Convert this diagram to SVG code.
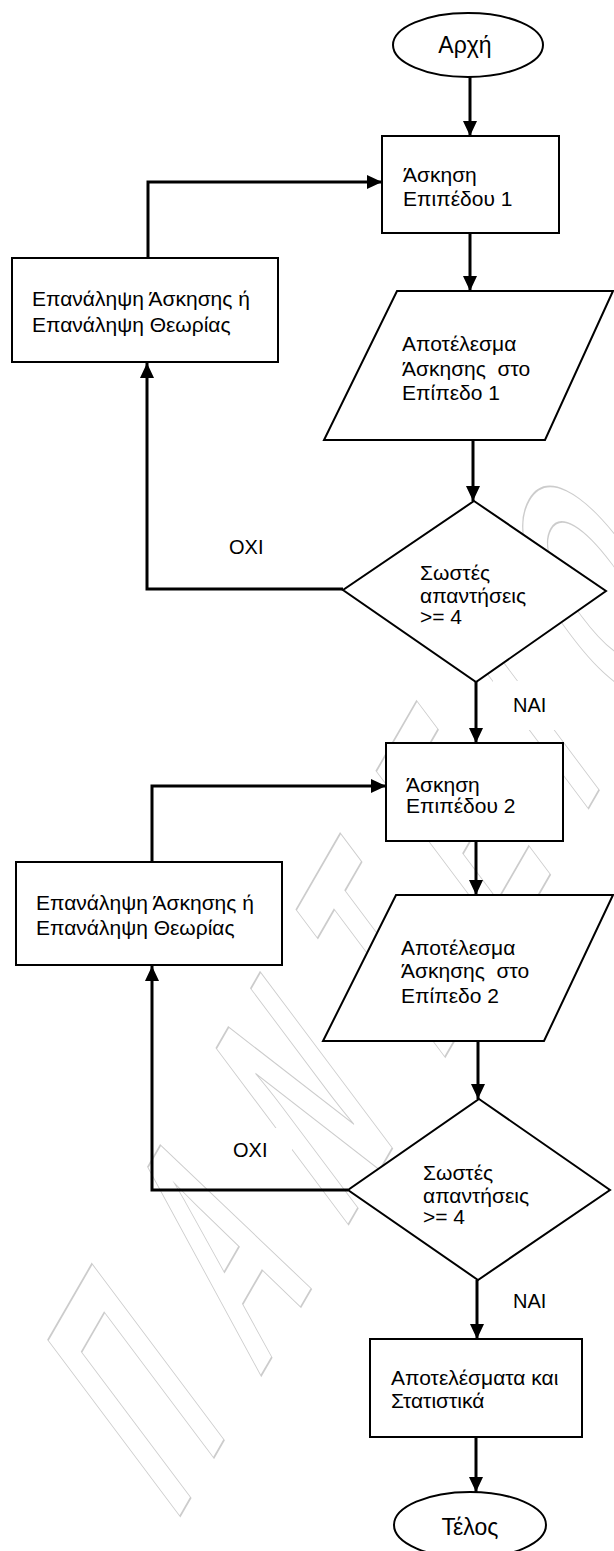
<svg xmlns="http://www.w3.org/2000/svg" width="614" height="1551" viewBox="0 0 614 1551">
<style>
text{font-family:"Liberation Sans",Arial,sans-serif;font-size:21px;fill:#000;white-space:pre}
.shape{fill:#fff;stroke:#000;stroke-width:2}
.conn{fill:none;stroke:#000;stroke-width:3}
.lbl{fill:#fff;stroke:none}
.lt{font-size:20px}
.big{font-size:23px}
.wm{font-family:"Liberation Sans",Arial,sans-serif;font-size:100px;font-weight:bold;fill:#fff;stroke:#c4c4c4;stroke-width:1.5;letter-spacing:40px}
</style>
<defs>
<marker id="arr" markerUnits="userSpaceOnUse" markerWidth="16" markerHeight="14" refX="15" refY="7" orient="auto">
<path d="M0,0 L15,7 L0,14 Z" fill="#000"/>
</marker>
</defs>
<rect width="614" height="1551" fill="#fff"/>
<g id="watermark" opacity="0.85">
<text class="wm" transform="matrix(0.75,-1.3,1.92,2.56,175,1525)" vector-effect="non-scaling-stroke">ΠΑΝΤΕΙΟ</text>
</g>
<g id="connectors">
<path class="conn" d="M470,77 V136" marker-end="url(#arr)"/>
<path class="conn" d="M470,233 V291" marker-end="url(#arr)"/>
<path class="conn" d="M473,440 V501" marker-end="url(#arr)"/>
<path class="conn" d="M343,589 H147 V363" marker-end="url(#arr)"/>
<path class="conn" d="M148,258 V182 H382" marker-end="url(#arr)"/>
<path class="conn" d="M476,682 V743" marker-end="url(#arr)"/>
<path class="conn" d="M476,841 V895" marker-end="url(#arr)"/>
<path class="conn" d="M478,1041 V1099" marker-end="url(#arr)"/>
<path class="conn" d="M348,1190 H152 V966" marker-end="url(#arr)"/>
<path class="conn" d="M152,862 V786 H386" marker-end="url(#arr)"/>
<path class="conn" d="M477,1280 V1339" marker-end="url(#arr)"/>
<path class="conn" d="M476,1437 V1492" marker-end="url(#arr)"/>
</g>
<g id="start">
<ellipse class="shape" cx="468" cy="45" rx="75" ry="32"/>
<text class="big" x="465" y="53" text-anchor="middle">Αρχή</text>
</g>
<g id="ex1">
<rect class="shape" x="382" y="136" width="177" height="97"/>
<text x="403" y="182">Άσκηση</text>
<text x="403" y="206">Επιπέδου 1</text>
</g>
<g id="res1">
<polygon class="shape" points="397,291 613,291 545,440 324,440"/>
<text x="402" y="351">Αποτέλεσμα</text>
<text x="402" y="376">Άσκησης  στο</text>
<text x="402" y="400">Επίπεδο 1</text>
</g>
<g id="dec1">
<polygon class="shape" points="474,501 606,591 476,682 343,590"/>
<text x="420" y="580">Σωστές</text>
<text x="420" y="603">απαντήσεις</text>
<text x="420" y="624">&gt;= 4</text>
</g>
<g id="rep1">
<rect class="shape" x="12" y="258" width="266" height="104"/>
<text x="32" y="306">Επανάληψη Άσκησης ή</text>
<text x="32" y="332">Επανάληψη Θεωρίας</text>
</g>
<g id="no1">
<rect class="lbl" x="208" y="525" width="79" height="50"/>
<text class="lt" x="229" y="554">ΟΧΙ</text>
</g>
<g id="yes1">
<rect class="lbl" x="493" y="681" width="82" height="49"/>
<text class="lt" x="513" y="712">ΝΑΙ</text>
</g>
<g id="ex2">
<rect class="shape" x="386" y="743" width="177" height="98"/>
<text x="406" y="792">Άσκηση</text>
<text x="406" y="813">Επιπέδου 2</text>
</g>
<g id="rep2">
<rect class="shape" x="16" y="862" width="266" height="103"/>
<text x="36" y="910">Επανάληψη Άσκησης ή</text>
<text x="36" y="935">Επανάληψη Θεωρίας</text>
</g>
<g id="res2">
<polygon class="shape" points="396,895 613,895 544,1041 323,1041"/>
<text x="401" y="955">Αποτέλεσμα</text>
<text x="401" y="978">Άσκησης  στο</text>
<text x="401" y="1003">Επίπεδο 2</text>
</g>
<g id="dec2">
<polygon class="shape" points="479,1099 610,1190 478,1280 348,1190"/>
<text x="423" y="1180">Σωστές</text>
<text x="423" y="1203">απαντήσεις</text>
<text x="423" y="1224">&gt;= 4</text>
</g>
<g id="no2">
<rect class="lbl" x="213" y="1128" width="79" height="50"/>
<text class="lt" x="233" y="1157">ΟΧΙ</text>
</g>
<g id="yes2">
<rect class="lbl" x="492" y="1285" width="83" height="45"/>
<text class="lt" x="513" y="1308">ΝΑΙ</text>
</g>
<g id="stats">
<rect class="shape" x="370" y="1339" width="212" height="98"/>
<text x="391" y="1385">Αποτελέσματα και</text>
<text x="391" y="1408">Στατιστικά</text>
</g>
<g id="end">
<ellipse class="shape" cx="470" cy="1525" rx="76" ry="33"/>
<text class="big" x="470" y="1535" text-anchor="middle">Τέλος</text>
</g>
</svg>
